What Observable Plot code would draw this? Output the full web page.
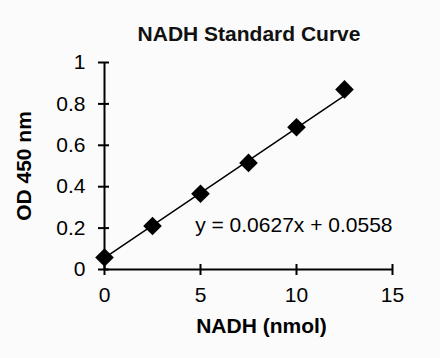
<!DOCTYPE html>
<html>
<head>
<meta charset="utf-8">
<script src="https://cdn.jsdelivr.net/npm/d3@7"></script>
<script src="https://cdn.jsdelivr.net/npm/@observablehq/plot@0.6"></script>
<style>
  html, body { margin: 0; padding: 0; background: #fbfbfb; }
  body { width: 440px; height: 358px; overflow: hidden; font-family: "Liberation Sans", Arial, sans-serif; }
  #title { box-sizing: border-box; width: 440px; height: 50px; padding-top: 23px; padding-left: 58px; text-align: center; font-size: 21px; line-height: 21px; font-weight: bold; color: #111; }
  svg { display: block; }
</style>
</head>
<body>
<div id="title">NADH Standard Curve</div>
<div id="chart"></div>
<script>
// Data
const nadh = [0, 2.5, 5, 7.5, 10, 12.5];
const od = [0.058, 0.21, 0.366, 0.515, 0.687, 0.870];
const xTicks = [0, 5, 10, 15];
const yTicks = [0, 0.2, 0.4, 0.6, 0.8, 1];
const slope = [0.0627];
const intercept = [0.0558];
const equation = ["y = 0.0627x + 0.0558"];
const xLabel = ["NADH (nmol)"];
const yLabel = "OD 450 nm";

const points = nadh.map((x, i) => ({x, y: od[i]}));
const xExt = d3.extent(nadh);
const fit = xExt.map(x => ({x, y: slope[0] * x + intercept[0]}));
const eqPos = [{x: 15, y: 0.213, label: equation[0]}];

const chart = Plot.plot({
  width: 440,
  height: 308,
  marginLeft: 104,
  marginRight: 48,
  marginTop: 12,
  marginBottom: 89,
  style: {background: "transparent", fontFamily: "'Liberation Sans', Arial, sans-serif", color: "#000"},
  x: {domain: [0, 15]},
  y: {domain: [0, 1]},
  marks: [
    Plot.ruleY([0], {strokeWidth: 2}),
    Plot.ruleX([0], {strokeWidth: 2}),
    Plot.axisX({ticks: xTicks, tickSize: 11, dy: -5, tickPadding: 12, strokeWidth: 2, fontSize: 21, label: null, tickFormat: d => String(d)}),
    Plot.axisY({ticks: yTicks, tickSize: 11, dx: 5, tickPadding: 13, strokeWidth: 2, fontSize: 21, label: yLabel, labelAnchor: "center", labelArrow: "none", labelOffset: 88, tickFormat: d => String(d)}),
    Plot.line(fit, {x: "x", y: "y", stroke: "#000", strokeWidth: 1.5}),
    Plot.dot(points, {x: "x", y: "y", symbol: "diamond2", r: 8.4, fill: "#000", stroke: "none"}),
    Plot.text(eqPos, {x: "x", y: "y", text: "label", textAnchor: "end", lineAnchor: "middle", fontSize: 21, fill: "#000"}),
    Plot.text(xLabel, {frameAnchor: "bottom", dx: 13, dy: 63, fontSize: 21, fontWeight: "bold", fill: "#000"})
  ]
});
document.getElementById("chart").appendChild(chart);
chart.querySelectorAll("[aria-label='y-axis label']").forEach(g => g.setAttribute("font-weight", "bold"));
</script>
</body>
</html>
